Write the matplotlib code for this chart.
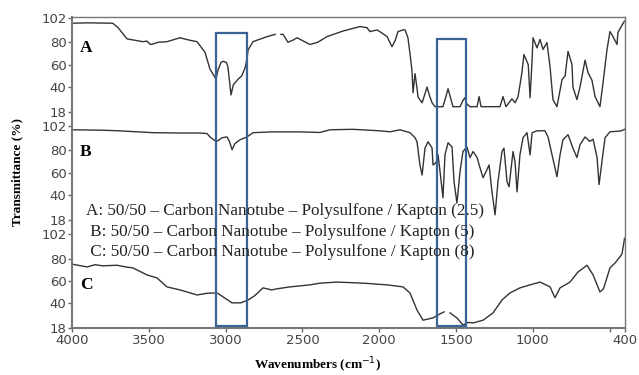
import numpy as np
import matplotlib.pyplot as plt
from matplotlib.patches import Rectangle

# spectrum A (wavenumber, transmittance %), NaN = gap in the trace
wn_a = [4000, 3900, 3735, 3700, 3642, 3600, 3540, 3512, 3490, 3470, 3440, 3382, 3297, 3240, 3186,
        3134, 3102, 3075, 3063, 3050, 3030, 3017, 2995, 2985, 2965, 2950, 2919, 2895, 2874, 2861,
        2854, 2822, 2730, 2678, 2660, 2640, 2626, 2594, 2560, 2535, 2451, 2400, 2340, 2236, 2125,
        2080, 2060, 2014, 1980, 1949, 1917, 1895, 1878, 1845, 1832, 1813, 1800, 1787, 1780, 1767,
        1760, 1747, 1721, 1700, 1689, 1672, 1656, 1637, 1585, 1565, 1552, 1535, 1520, 1474, 1455,
        1442, 1430, 1409, 1363, 1350, 1337, 1214, 1194, 1175, 1136, 1116, 1096, 1071, 1058, 1030,
        1018, 1005, 999, 973, 953, 934, 908, 888, 869, 843, 810, 790, 771, 745, 739,
        713, 693, 660, 641, 615, 595, 563, 543, 517, 498, 478, 452, 446, 433, 406, 400]
tr_a = [97, 97.3, 97, 93, 83, 82, 80.5, 81, 78, 78.5, 80, 80.5, 84, 82, 80.5,
        71, 56, 50, 47, 55, 62, 63, 62, 58, 33, 42, 47, 50, 57, 65,
        73, 80.5, 85, 87, np.nan, 87, 87, 80, 82, 84, 78, 80, 85, 90, 94,
        93, 89.5, 91, 88, 85, 76, 82, 89.5, 91, 91, 84, 70, 55, 35, 52,
        45, 31, 26, 35, 40, 32, 26, 22.5, 22.5, 32, 38.5, 30, 22.5, 22.5, 28,
        30.5, 25, 22.5, 22.5, 31.5, 22.5, 22.5, 31.5, 22.5, 29.5, 26, 31.5, 53, 69, 60,
        30.5, 64, 84, 75, 82.5, 73.6, 79.7, 58, 28.8, 22.5, 46.6, 50, 71.8, 60, 40,
        28.8, 40, 64, 53, 46, 31.5, 22.5, 44, 73.6, 89.5, 85, 78, 88.6, 92, 98.4, 99]

# spectrum B
wn_b = [4000, 3800, 3700, 3473, 3300, 3167, 3121, 3102, 3060, 3023, 2991, 2975, 2958, 2940, 2906,
        2861, 2822, 2700, 2516, 2386, 2320, 2171, 2000, 1930, 1865, 1800, 1767, 1754, 1735, 1721,
        1702, 1682, 1656, 1650, 1630, 1617, 1604, 1585, 1572, 1552, 1526, 1513, 1494, 1474, 1455,
        1429, 1409, 1389, 1363, 1344, 1324, 1305, 1285, 1266, 1246, 1227, 1201, 1188, 1168, 1155,
        1129, 1116, 1103, 1084, 1064, 1038, 1018, 1005, 973, 921, 901, 875, 843, 823, 804,
        771, 739, 713, 693, 660, 630, 608, 582, 569, 550, 530, 498, 433, 406, 400]
tr_b = [98.4, 98, 97.5, 95.8, 95.5, 95.5, 95, 92, 87.7, 91.3, 92, 88, 80.6, 86, 89.5,
        92, 95.8, 96.5, 96.5, 96, 98.4, 98.8, 97.5, 96.6, 98.4, 95.8, 91.3, 87.7, 67, 58,
        82, 87.7, 82, 67, 69, 76, 61, 37.7, 76, 86.8, 83, 52, 33, 61, 79,
        83, 73.6, 79, 73.6, 64.5, 55.6, 61, 67, 43, 22.5, 52, 79, 82, 52, 47.5,
        79, 70, 43, 76, 91.3, 95.8, 76, 95.8, 97.5, 97.5, 92, 76, 56.5, 76, 89.5,
        94, 82, 73.6, 85, 92, 88, 90, 73.6, 49.5, 70, 91.3, 96.6, 97.2, 98.4, 99]

# spectrum C
wn_c = [4000, 3902, 3850, 3800, 3707, 3650, 3603, 3512, 3447, 3382, 3297, 3186, 3120, 3056, 3017,
        2958, 2900, 2854, 2809, 2757, 2700, 2665, 2581, 2451, 2386, 2275, 2100, 1949, 1845, 1800,
        1754, 1715, 1650, 1617, 1578, 1560, 1539, 1494, 1455, 1420, 1389, 1324, 1259, 1201, 1149,
        1084, 1018, 953, 888, 856, 823, 758, 706, 647, 608, 563, 540, 498, 465, 433,
        420, 410, 403]
tr_c = [75, 72.5, 74.5, 73.5, 74, 72.5, 71.6, 65.4, 62.7, 54.7, 52, 47.5, 49, 49.3, 45.8,
        40.4, 40.5, 43, 47, 53.8, 52, 53, 54.7, 56.5, 58, 59, 58, 56.5, 54.7, 49.3,
        34, 25, 27, 29.7, 32.4, np.nan, 31.5, 27, 20.7, 23, 22.5, 25, 31.5, 43, 49.3,
        53.8, 56.5, 59, 54.7, 45, 53.8, 59, 68, 74, 65.4, 50.2, 53, 71.6, 76, 81.5,
        84, 92, 98]

panels = ["A", "B", "C"]
offsets = [193, 96.5, 0]
yticks = [18, 40, 60, 80, 102]
xticks = [4000, 3500, 3000, 2500, 2000, 1500, 1000, 500, 400]
xticklabels = ["4000", "3500", "3000", "2500", "2000", "1500", "1000", "", "400"]
legend_lines = ["A: 50/50 \u2013 Carbon Nanotube \u2013 Polysulfone / Kapton (2.5)",
                " B: 50/50 \u2013 Carbon Nanotube \u2013 Polysulfone / Kapton (5)",
                " C: 50/50 \u2013 Carbon Nanotube \u2013 Polysulfone / Kapton (8)"]
# highlighted regions (wavenumber from, to, stacked y bottom, top)
boxes = [(3062, 2861, 20, 281), (1624, 1435, 20, 276)]

fig = plt.figure(figsize=(6.39, 3.75), dpi=100)
ax = fig.add_axes([0.1127, 0.1253, 0.8654, 0.8293])

for wn, tr, off in zip([wn_a, wn_b, wn_c], [tr_a, tr_b, tr_c], offsets):
    ax.plot(wn, np.array(tr) + off, color='#333333', lw=1.0)

for x0, x1, y0, y1 in boxes:
    ax.add_patch(Rectangle((x1, y0), x0 - x1, y1 - y0, fill=False,
                           edgecolor='#3b6496', lw=1.6, zorder=5))

ax.set_xlim(4000, 400)
ax.set_ylim(18, 295.5)

ypos = []
ylab = []
for off in offsets:
    for t in yticks:
        ypos.append(t + off)
        ylab.append(str(t))
ax.set_yticks(ypos)
ax.set_yticklabels(ylab)
ax.set_xticks(xticks)
ax.set_xticklabels(xticklabels)
ax.tick_params(axis='both', direction='out', length=3, width=1, color='#666666',
               labelcolor='#444444', labelsize=9.5, pad=1)

for s in ax.spines.values():
    s.set_color('#777777')
    s.set_linewidth(1.0)
ax.spines['bottom'].set_linewidth(1.5)
ax.spines['left'].set_linewidth(1.5)

serif = 'Liberation Serif'
fig.text(318 / 639, 1 - 365 / 375, "Wavenumbers (cm$^{-1}$)", fontfamily=serif,
         fontweight='bold', fontsize=9.5, ha='center', va='center')
fig.text(0.027, 0.54, "Transmittance (%)", rotation=90, fontfamily=serif,
         fontweight='bold', fontsize=9.5, ha='center', va='center')

for lab, y in zip(panels, [48, 152, 285]):
    fig.text(80 / 639, 1 - y / 375, lab, fontfamily=serif, fontweight='bold',
             fontsize=12.5, va='center', ha='left')

for line, y in zip(legend_lines, [211, 232, 252]):
    fig.text(86 / 639, 1 - y / 375, line, fontfamily=serif, fontsize=12.3,
             va='center', ha='left', color='#222222')

plt.savefig("out.png", dpi=100)
